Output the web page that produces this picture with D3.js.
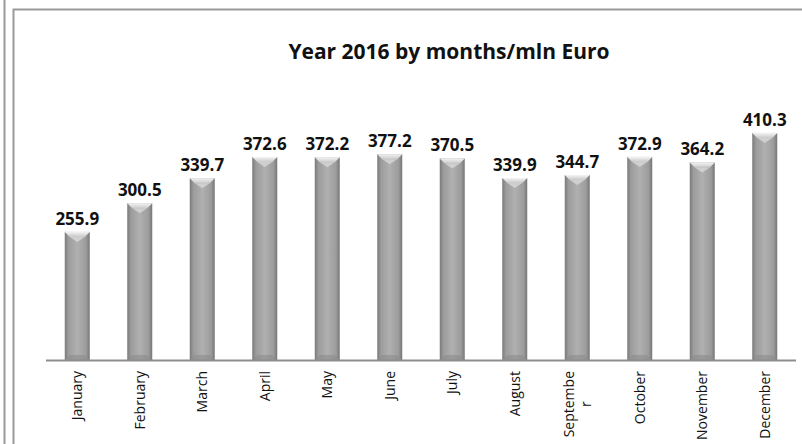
<!DOCTYPE html>
<html>
<head>
<meta charset="utf-8">
<script src="https://cdn.jsdelivr.net/npm/d3@7"></script>
<style>
  body { margin: 0; background: #fff; }
  svg { display: block; font-family: "Open Sans", sans-serif; }
</style>
</head>
<body>
<svg id="chart" width="802" height="444"></svg>
<script>
// Data
const months = ['January', 'February', 'March', 'April', 'May', 'June',
                'July', 'August', 'Septembe\nr', 'October', 'November', 'December'];
const values = [255.9, 300.5, 339.7, 372.6, 372.2, 377.2, 370.5, 339.9, 344.7, 372.9, 364.2, 410.3];
const title = 'Year 2016 by months/mln Euro';

const svg = d3.select('#chart');

// frame lines
svg.append('line').attr('x1', 4.5).attr('x2', 4.5).attr('y1', 0).attr('y2', 444)
    .attr('stroke', '#9a9a9a').attr('stroke-width', 2);
svg.append('path').attr('d', 'M13.5,444V9.5H802')
    .attr('fill', 'none').attr('stroke', '#9a9a9a').attr('stroke-width', 2);

const x = d3.scaleBand()
    .domain(months)
    .range([46, 796])
    .paddingInner(0.6)
    .paddingOuter(0.3);

// value axis does not start at zero in the original
const y = d3.scaleLinear()
    .domain([56, 450])
    .range([360, 107.5]);

// gradient for the bars
const defs = svg.append('defs');
const grad = defs.append('linearGradient').attr('id', 'barGrad')
    .attr('x1', 0).attr('x2', 1).attr('y1', 0).attr('y2', 0);
grad.append('stop').attr('offset', '0%').attr('stop-color', '#7a7a7a');
grad.append('stop').attr('offset', '15%').attr('stop-color', '#9c9c9c');
grad.append('stop').attr('offset', '50%').attr('stop-color', '#b0b0b0');
grad.append('stop').attr('offset', '85%').attr('stop-color', '#9c9c9c');
grad.append('stop').attr('offset', '100%').attr('stop-color', '#767676');

const topGrad = defs.append('linearGradient').attr('id', 'topGrad')
    .attr('x1', 0).attr('x2', 0).attr('y1', 0).attr('y2', 1);
topGrad.append('stop').attr('offset', '0%').attr('stop-color', '#f4f4f4');
topGrad.append('stop').attr('offset', '100%').attr('stop-color', '#c8c8c8');

const bars = svg.append('g').selectAll('g')
    .data(values)
    .enter()
    .append('g');

bars.append('rect')
    .attr('x', (d, i) => x(months[i]))
    .attr('y', d => y(d))
    .attr('width', x.bandwidth())
    .attr('height', d => y.range()[0] - y(d))
    .attr('fill', 'url(#barGrad)');

// bevel highlight on top of each bar
bars.append('path')
    .attr('d', (d, i) => {
        const x0 = x(months[i]), w = x.bandwidth(), t = y(d), b = 5;
        return `M${x0},${t}H${x0 + w}L${x0 + w - b},${t + b}H${x0 + b}Z`;
    })
    .attr('fill', 'url(#topGrad)');
bars.append('path')
    .attr('d', (d, i) => {
        const x0 = x(months[i]), w = x.bandwidth(), t = y(d), b = 5;
        return `M${x0 + b},${t + b}H${x0 + w - b}L${x0 + w / 2},${t + b + 5}Z`;
    })
    .attr('fill', '#d8d8d8').attr('opacity', 0.8);

// bottom bevel
bars.append('path')
    .attr('d', (d, i) => {
        const x0 = x(months[i]), w = x.bandwidth(), bt = y.range()[0], b = 5;
        return `M${x0},${bt}H${x0 + w}L${x0 + w - b},${bt - b}H${x0 + b}Z`;
    })
    .attr('fill', '#8c8c8c').attr('opacity', 0.6);

// value labels
bars.append('text')
    .attr('x', (d, i) => x(months[i]) + x.bandwidth() / 2)
    .attr('y', d => y(d) - 7)
    .attr('text-anchor', 'middle')
    .style('font-size', '17px')
    .style('font-weight', 'bold')
    .attr('fill', '#111')
    .text(d => d.toFixed(1));

// baseline
svg.append('line')
    .attr('x1', 46).attr('x2', 796)
    .attr('y1', 360.5).attr('y2', 360.5)
    .attr('stroke', '#8e8e8e').attr('stroke-width', 2);

// category labels, rotated
const labels = svg.append('g').selectAll('text')
    .data(months)
    .enter()
    .append('text')
    .attr('transform', d => `translate(${x(d) + x.bandwidth() / 2},371) rotate(-90)`)
    .attr('text-anchor', 'end')
    .style('font-size', '14px')
    .attr('fill', '#111');

labels.each(function(d) {
    const lines = d.split('\n');
    const el = d3.select(this);
    lines.forEach((ln, k) => {
        el.append('tspan')
            .attr('x', 0)
            .attr('dy', k === 0 ? (0.35 - (lines.length - 1) * 0.6) + 'em' : '1.2em')
            .text(ln);
    });
    // wrapped second line sits centred under the first one
    if (lines.length > 1) {
        const spans = el.selectAll('tspan').nodes();
        const firstLen = spans[0].getComputedTextLength();
        const restLen = spans[1].getComputedTextLength();
        d3.select(spans[1]).attr('x', -(firstLen - restLen) / 2);
    }
});

// title
svg.append('text')
    .attr('x', 449)
    .attr('y', 59)
    .attr('text-anchor', 'middle')
    .style('font-size', '21px')
    .style('font-weight', 'bold')
    .attr('fill', '#111')
    .text(title);
</script>
</body>
</html>
